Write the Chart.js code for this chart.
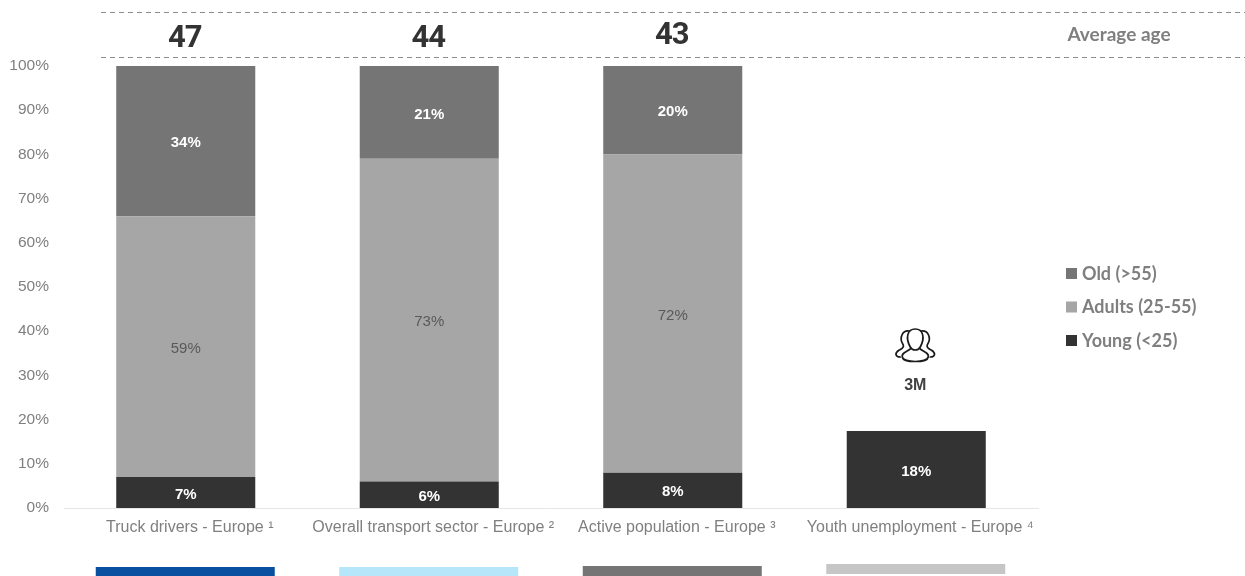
<!DOCTYPE html>
<html>
<head>
<meta charset="utf-8">
<title>Age of truck drivers</title>
<script src="https://cdn.jsdelivr.net/npm/chart.js@4"></script>
<style>
    html, body { margin: 0; padding: 0; background: #fff; }
    canvas { display: block; }
</style>
</head>
<body>
<canvas id="ageChart" width="1245" height="576"></canvas>
<script>
const categories = ['Truck drivers - Europe ¹', 'Overall transport sector - Europe ²', 'Active population - Europe ³', 'Youth unemployment - Europe ⁴'];
// last bar is drawn a bit shorter than its printed 18% in the picture
const young = [7, 6, 8, 17.4];
const youngLabels = ['7%', '6%', '8%', '18%'];
const adults = [59, 73, 72, null];
const adultsLabels = ['59%', '73%', '72%', null];
const old = [34, 21, 20, null];
const oldLabels = ['34%', '21%', '20%', null];
const averageAge = ['47', '44', '43', null];
const youthCount = '3M';

const TICK_GREY = '#7f7f7f';
const LABEL_FONT = '"Liberation Sans", Arial, sans-serif';

// what Chart.js has no option for: bar labels, header band, legend spacing, icon, colour strips
const decorations = {
    id: 'decorations',
    afterDatasetsDraw(chart) {
        const ctx = chart.ctx;
        const x = chart.scales.x;

        ctx.save();
        ctx.textAlign = 'center';
        ctx.textBaseline = 'middle';

        // values inside the bars
        chart.data.datasets.forEach((ds, i) => {
            chart.getDatasetMeta(i).data.forEach((bar, j) => {
                if (ds.valueLabels[j] == null) return;
                const isAdults = ds.label.startsWith('Adults');
                ctx.font = (isAdults ? '' : 'bold ') + '15px ' + LABEL_FONT;
                ctx.fillStyle = isAdults ? '#595959' : '#ffffff';
                ctx.fillText(ds.valueLabels[j], bar.x, (bar.y + bar.base) / 2 + 2);
            });
        });

        // dashed header band
        ctx.strokeStyle = '#8c8c8c';
        ctx.lineWidth = 1;
        ctx.setLineDash([5, 4]);
        [12.5, 57.5].forEach(y => {
            ctx.beginPath();
            ctx.moveTo(101, y);
            ctx.lineTo(1245, y);
            ctx.stroke();
        });
        ctx.setLineDash([]);

        ctx.font = 'bold 31px Roboto, sans-serif';
        ctx.letterSpacing = '-1px';
        ctx.fillStyle = '#333333';
        const ageY = [39, 39, 36];
        averageAge.forEach((age, i) => {
            if (age) ctx.fillText(age, x.getPixelForValue(i) - 1, ageY[i]);
        });
        ctx.letterSpacing = '0px';

        ctx.font = 'bold 19px Lato, sans-serif';
        ctx.fillStyle = TICK_GREY;
        ctx.fillText('Average age', 1119, 35);

        // legend, top series first
        ctx.textAlign = 'left';
        ctx.font = 'bold 18px Lato, sans-serif';
        [...chart.data.datasets].reverse().forEach((ds, i) => {
            const y = 274 + i * 33.5;
            ctx.fillStyle = ds.backgroundColor;
            ctx.fillRect(1066, y - 6, 11, 11);
            ctx.fillStyle = TICK_GREY;
            ctx.fillText(ds.label, 1082, y);
        });
        ctx.textAlign = 'center';

        // people icon + count over the last bar
        const cx = x.getPixelForValue(3);
        drawPeople(ctx, cx - 1, 346);
        ctx.font = 'bold 16px ' + LABEL_FONT;
        ctx.fillStyle = '#404040';
        ctx.fillText(youthCount, cx - 1, 386);

        // colour strips under each category
        const stripColors = ['#0a50a1', '#b5e6f9', '#757575', '#c6c6c6'];
        const stripTop = [567, 567, 566, 564];
        stripColors.forEach((c, i) => {
            ctx.fillStyle = c;
            ctx.fillRect(x.getPixelForValue(i) - 90, stripTop[i], 179, 10);
        });
        ctx.restore();
    }
};

function drawPeople(ctx, cx, cy) {
    ctx.strokeStyle = '#1a1a1a';
    ctx.lineWidth = 1.7;
    ctx.lineJoin = 'round';
    ctx.lineCap = 'round';

    // side figures behind
    [-1, 1].forEach(s => {
        ctx.beginPath();
        ctx.moveTo(cx + s * 6, cy - 15);
        ctx.bezierCurveTo(cx + s * 12, cy - 16, cx + s * 17, cy - 9, cx + s * 12, cy - 1);
        ctx.bezierCurveTo(cx + s * 11, cy + 2, cx + s * 14, cy + 3, cx + s * 16, cy + 4);
        ctx.bezierCurveTo(cx + s * 21, cy + 7, cx + s * 20, cy + 11, cx + s * 15, cy + 11);
        ctx.stroke();
    });

    // middle figure
    ctx.beginPath();
    ctx.moveTo(cx - 5, cy + 1);
    ctx.bezierCurveTo(cx - 10, cy - 8, cx - 8, cy - 17, cx, cy - 17);
    ctx.bezierCurveTo(cx + 8, cy - 17, cx + 10, cy - 8, cx + 5, cy + 1);
    ctx.bezierCurveTo(cx + 3, cy + 5, cx - 3, cy + 5, cx - 5, cy + 1);
    ctx.stroke();
    ctx.beginPath();
    ctx.moveTo(cx - 5, cy + 3);
    ctx.bezierCurveTo(cx - 9, cy + 6, cx - 14, cy + 7, cx - 13, cy + 11);
    ctx.bezierCurveTo(cx - 12, cy + 17, cx + 12, cy + 17, cx + 13, cy + 11);
    ctx.bezierCurveTo(cx + 14, cy + 7, cx + 9, cy + 6, cx + 5, cy + 3);
    ctx.stroke();
}

new Chart(document.getElementById('ageChart'), {
    type: 'bar',
    data: {
        labels: categories,
        datasets: [
            { label: 'Young (<25)', data: young, valueLabels: youngLabels, backgroundColor: '#333333' },
            { label: 'Adults (25-55)', data: adults, valueLabels: adultsLabels, backgroundColor: '#a6a6a6' },
            { label: 'Old (>55)', data: old, valueLabels: oldLabels, backgroundColor: '#757575' }
        ]
    },
    options: {
        responsive: false,
        animation: false,
        layout: { padding: { top: 66, right: 207, bottom: 0, left: 0 } },
        datasets: { bar: { barPercentage: 0.571, categoryPercentage: 1 } },
        plugins: {
            tooltip: { enabled: false },
            legend: { display: false }
        },
        scales: {
            x: {
                stacked: true,
                grid: { display: false, drawTicks: false },
                border: { color: '#e6e6e6' },
                ticks: {
                    autoSkip: false,
                    maxRotation: 0,
                    padding: 10,
                    labelOffset: 4,
                    color: TICK_GREY,
                    font: { family: LABEL_FONT, size: 16 }
                },
                afterFit(scale) { scale.height = 68; }
            },
            y: {
                stacked: true,
                min: 0,
                max: 100,
                grid: { display: false, drawTicks: false },
                border: { display: false },
                ticks: {
                    stepSize: 10,
                    padding: 15,
                    color: TICK_GREY,
                    font: { family: LABEL_FONT, size: 15.5 },
                    callback: v => v + '%'
                },
                afterFit(scale) { scale.width = 64; }
            }
        }
    },
    plugins: [decorations]
});
</script>
</body>
</html>
